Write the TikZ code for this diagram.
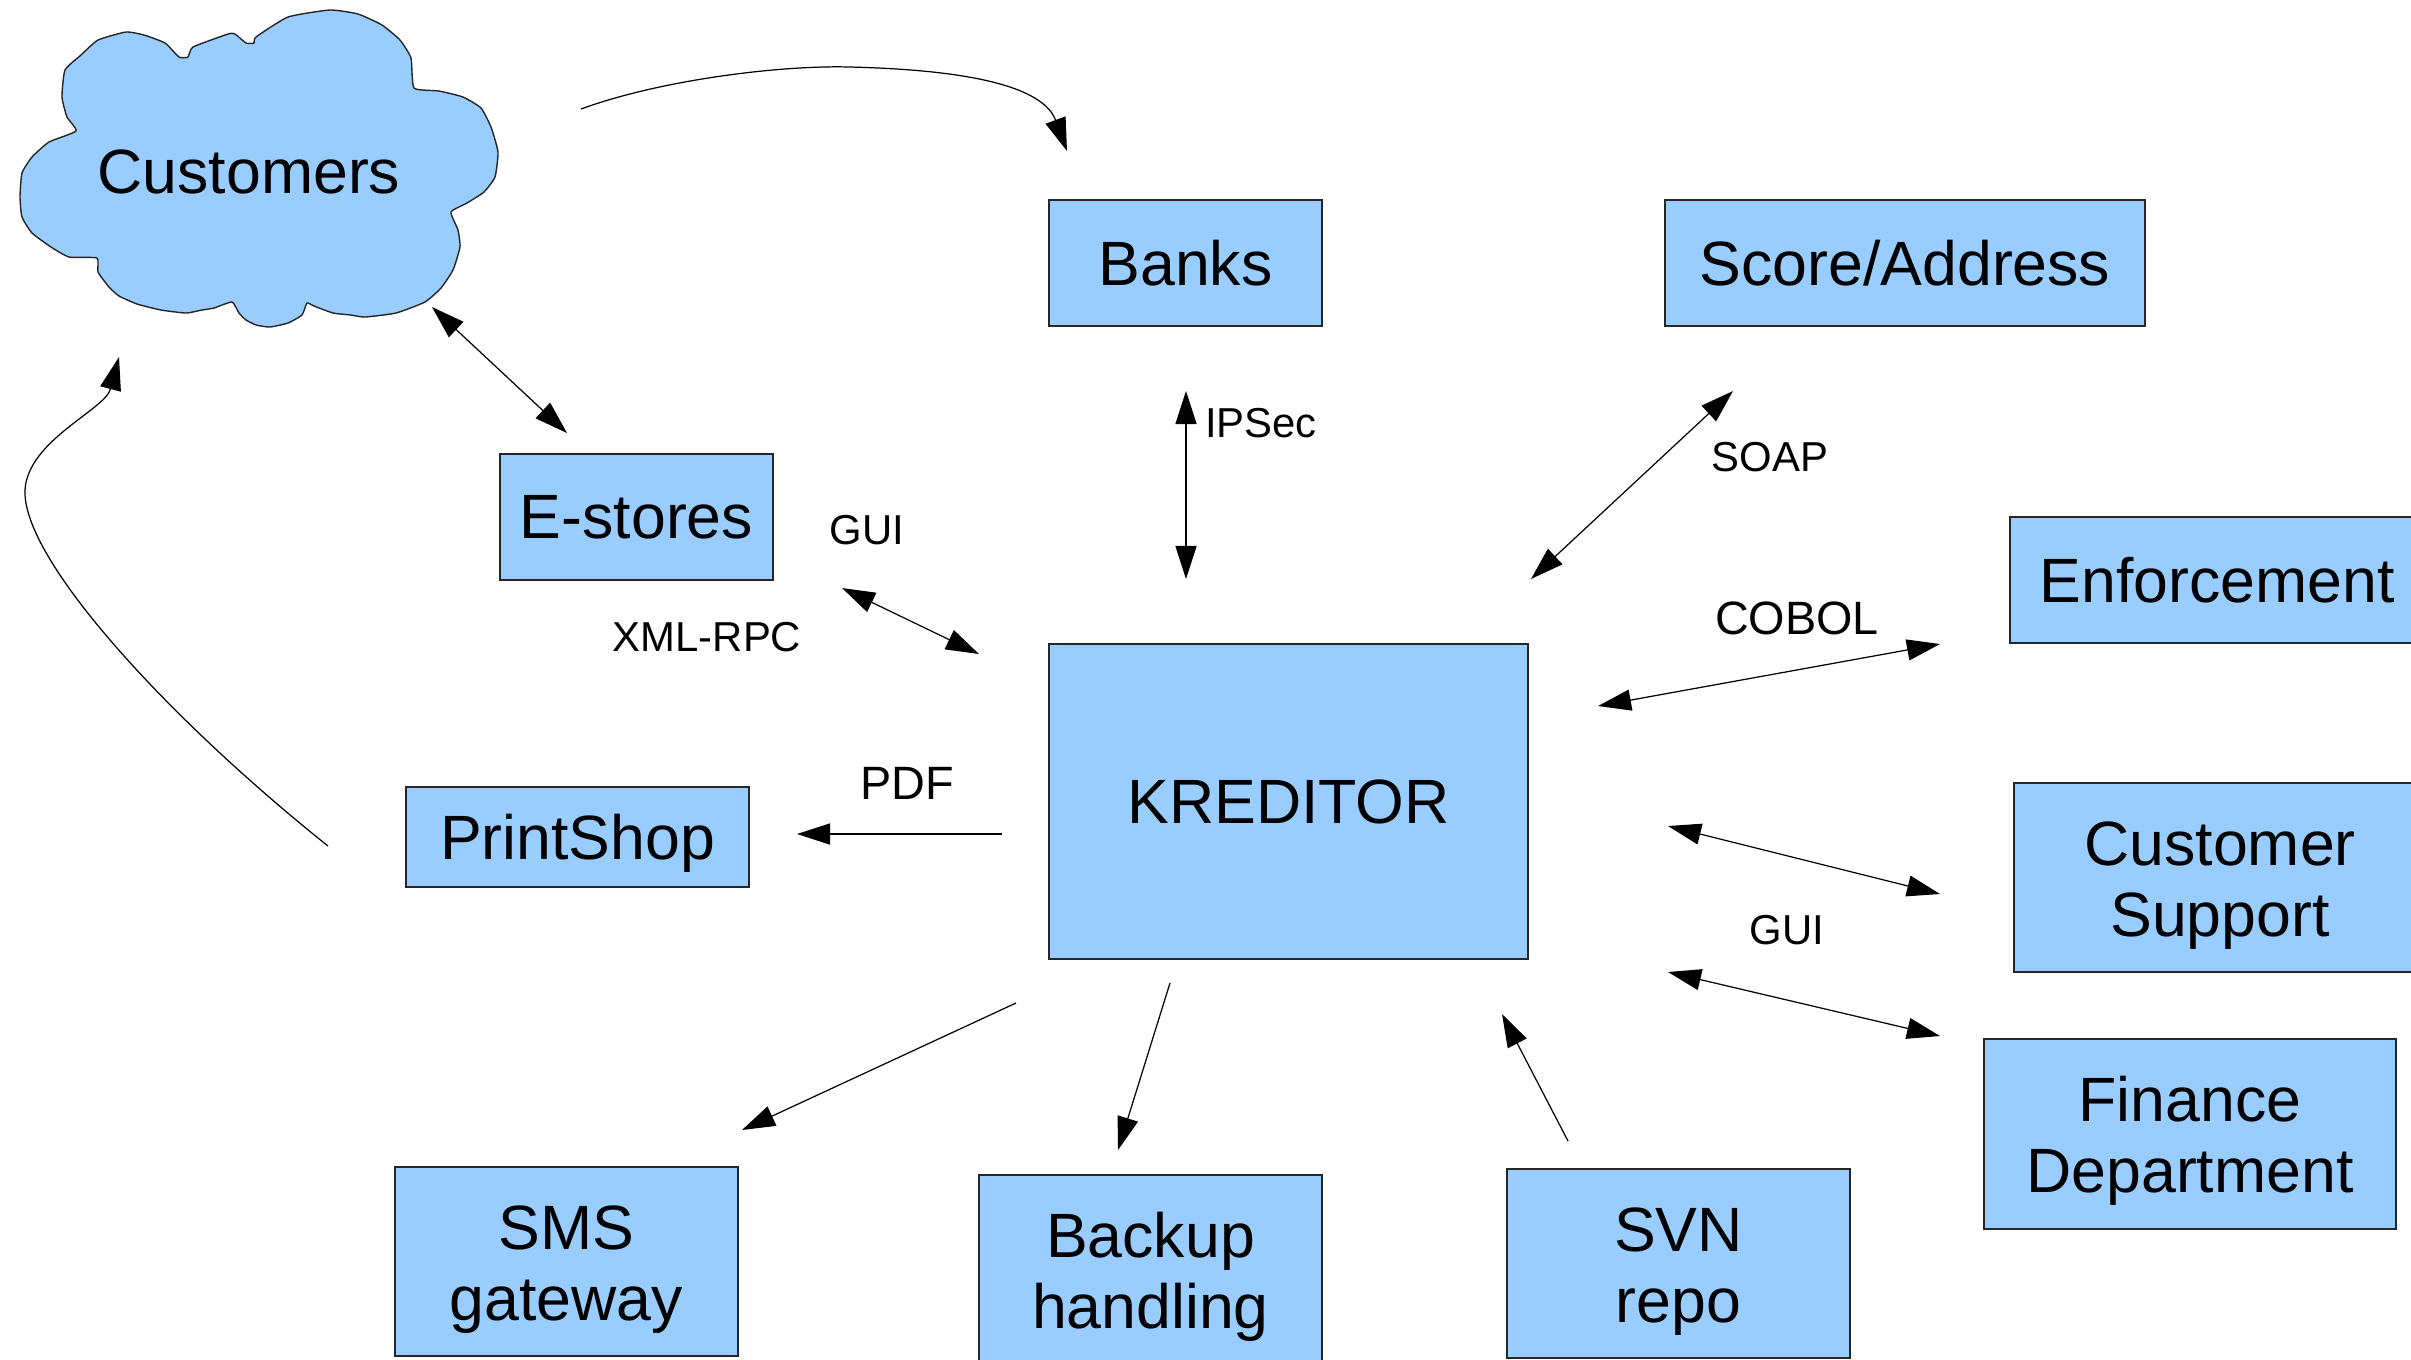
\documentclass[tikz,border=0pt]{standalone}
\usepackage{fontspec}
\setmainfont{Liberation Sans}
\usetikzlibrary{arrows.meta}
\definecolor{boxblue}{HTML}{99CCFF}
\newcommand{\toppad}{\rule{0pt}{17pt}}
\tikzset{
  box/.style={draw=black!85, line width=0.5pt, fill=boxblue, inner sep=0pt,
    align=center, font=\fontsize{17.8}{20.2}\selectfont},
  lbl/.style={inner sep=0pt, font=\fontsize{11.9}{14}\selectfont},
  biglbl/.style={inner sep=0pt, font=\fontsize{13.3}{15}\selectfont},
  conn/.style={line width=0.35pt, -{Triangle[length=9.4pt,width=6pt]}},
  bconn/.style={line width=0.35pt, {Triangle[length=9.4pt,width=6pt]}-{Triangle[length=9.4pt,width=6pt]}},
}
\begin{document}
\begin{tikzpicture}[x=0.01cm, y=-0.01cm]
\useasboundingbox (0,0) rectangle (2411,1359);
\clip (0,0) rectangle (2411,1359);

% cloud outline
\path[draw=black!85, line width=0.4pt, fill=boxblue, line join=round]
  plot[smooth cycle, tension=0.3] coordinates {
  (126,32) (144,35) (165,43) (179,57) (188,57) (193,47) (228,34) (235,34)
  (246,43) (254,43) (256,37) (288,17) (330,10) (358,14) (382,25) (400,40)
  (411,58) (414,88) (439,91) (463,97) (481,108) (491,127) (498,152) (495,177)
  (484,192) (467,203) (451,212) (458,230) (460,247) (453,270) (441,288)
  (425,302) (396,313) (365,317) (351,315) (333,313) (314,306) (307,303)
  (302,315) (288,323) (270,327) (256,325) (246,320) (239,313) (232,302)
  (214,308) (202,310) (186,313) (161,310) (137,304) (119,296) (109,287)
  (98,272) (97,258) (69,257) (51,247) (32,233) (22,217) (20,197) (22,173)
  (32,157) (49,142) (76,131) (67,117) (62,97) (65,70) (81,55) (98,40)};
\node[font=\fontsize{17.8}{20}\selectfont, inner sep=0pt] (cust) at (249,172) {Customers};

% boxes
\node[box, minimum width=2.73cm, minimum height=1.26cm] (banks) at (1185.5,263) {Banks};
\node[box, minimum width=4.80cm, minimum height=1.26cm] (score) at (1905,263) {Score/Address};
\node[box, minimum width=2.73cm, minimum height=1.26cm] (estores) at (636.5,517) {E-stores};
\node[box, minimum width=4.14cm, minimum height=1.26cm] (enforce) at (2217,580) {Enforcement};
\node[box, minimum width=4.79cm, minimum height=3.15cm] (kred) at (1288.5,801.5) {KREDITOR};
\node[box, text depth=0pt, minimum width=3.43cm, minimum height=1.00cm] (print) at (577.5,837) {PrintShop};
\node[box, minimum width=4.12cm, minimum height=1.89cm] (support) at (2220,877.5) {\toppad Customer\\Support};
\node[box, minimum width=4.12cm, minimum height=1.90cm] (finance) at (2190,1134) {\toppad Finance\\Department};
\node[box, minimum width=3.43cm, minimum height=1.89cm] (sms) at (566.5,1261.5) {\toppad SMS\\gateway};
\node[box, minimum width=3.43cm, minimum height=1.89cm] (backup) at (1150.5,1269.5) {\toppad Backup\\handling};
\node[box, minimum width=3.43cm, minimum height=1.89cm] (svn) at (1678.5,1263.5) {\toppad SVN\\repo};

% connector labels
\node[lbl] (lgui1) at (867,530) {GUI};
\node[lbl] (lxml) at (707,637) {XML-RPC};
\node[lbl] (lipsec) at (1261,423) {IPSec};
\node[lbl] (lsoap) at (1770,457) {SOAP};
\node[biglbl] (lcobol) at (1797,618) {COBOL};
\node[lbl] (lgui2) at (1787,930) {GUI};
\node[biglbl] (lpdf) at (907,783) {PDF};

% connector end points
\coordinate (c1a) at (581,109);   \coordinate (c1b) at (1067,151);
\coordinate (c2a) at (432,307);   \coordinate (c2b) at (567,433);
\coordinate (c3a) at (328,846);   \coordinate (c3b) at (119,357);
\coordinate (c4a) at (842,588);   \coordinate (c4b) at (979,654);
\coordinate (c5a) at (1186,391);  \coordinate (c5b) at (1186,579);
\coordinate (c6a) at (1733,391);  \coordinate (c6b) at (1531,579);
\coordinate (c7a) at (1940,644);  \coordinate (c7b) at (1598,706);
\coordinate (c8a) at (1668,826);  \coordinate (c8b) at (1940,894);
\coordinate (c9a) at (1668,972);  \coordinate (c9b) at (1940,1036);
\coordinate (c10a) at (1002,834); \coordinate (c10b) at (797,834);
\coordinate (c11a) at (1016,1003);\coordinate (c11b) at (742,1130);
\coordinate (c12a) at (1170,983); \coordinate (c12b) at (1118,1150);
\coordinate (c13a) at (1568,1141);\coordinate (c13b) at (1502,1014);

% connectors
\draw[conn] (c1a) .. controls (660,80) and (780,65) .. (850,67)
                  .. controls (930,69) and (1040,78) .. (c1b);
\draw[bconn] (c2a) -- (c2b);
\draw[conn] (c3a) .. controls (170,720) and (22,560) .. (25,490)
                  .. controls (28,440) and (105,410) .. (c3b);
\draw[bconn] (c4a) -- (c4b);
\draw[bconn] (c5a) -- (c5b);
\draw[bconn] (c6a) -- (c6b);
\draw[bconn] (c7a) -- (c7b);
\draw[bconn] (c8a) -- (c8b);
\draw[bconn] (c9a) -- (c9b);
\draw[conn] (c10a) -- (c10b);
\draw[conn] (c11a) -- (c11b);
\draw[conn] (c12a) -- (c12b);
\draw[conn] (c13a) -- (c13b);
\end{tikzpicture}
\end{document}
